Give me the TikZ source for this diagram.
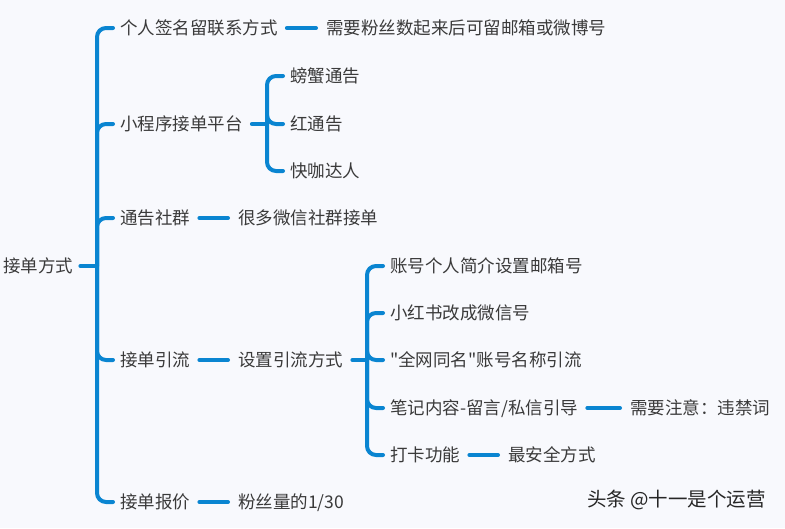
\documentclass[tikz,border=0pt]{standalone}
\usepackage{fontspec}
\setmainfont{Noto Sans CJK SC}
\newfontfamily\plainf{Noto Sans CJK SC}
\definecolor{lineblue}{HTML}{0A85D1}
\definecolor{txt}{HTML}{3A3A3A}
\definecolor{bg}{HTML}{F8F9FD}
\begin{document}
\begin{tikzpicture}[x=1pt,y=-1pt,
  lbl/.style={anchor=west, inner sep=0pt, text height=12pt, text depth=0pt, font=\fontsize{17.5}{20}\selectfont, text=txt},
  conn/.style={draw=lineblue, line width=4pt, line cap=round},
  brk/.style={conn, rounded corners=9pt}]
\fill[bg] (0,0) rectangle (785,528);
\useasboundingbox (0,0) rectangle (785,528);
% nodes
\node[lbl] (root) at (3,266) {接单方式};
\node[lbl] (a1) at (120,28) {个人签名留联系方式};
\node[lbl] (a1c) at (326,28) {需要粉丝数起来后可留邮箱或微博号};
\node[lbl] (a2) at (120,124) {小程序接单平台};
\node[lbl] (a2c1) at (290,76) {螃蟹通告};
\node[lbl] (a2c2) at (290,124) {红通告};
\node[lbl] (a2c3) at (290,171) {快咖达人};
\node[lbl] (a3) at (120,218) {通告社群};
\node[lbl] (a3c) at (238,218) {很多微信社群接单};
\node[lbl] (a4) at (120,360) {接单引流};
\node[lbl] (a4c) at (238,360) {设置引流方式};
\node[lbl] (b1) at (390,266) {账号个人简介设置邮箱号};
\node[lbl] (b2) at (390,313) {小红书改成微信号};
\node[lbl] (b3) at (390,360) {{\plainf "}全网同名{\plainf "}账号名称引流};
\node[lbl] (b4) at (390,408) {笔记内容-留言/私信引导};
\node[lbl] (b4c) at (630,408) {需要注意：违禁词};
\node[lbl] (b5) at (390,455) {打卡功能};
\node[lbl] (b5c) at (508,455) {最安全方式};
\node[lbl] (a5) at (120,502) {接单报价};
\node[lbl] (a5c) at (238,502) {粉丝量的1/30};
\node[anchor=west, inner sep=0pt, text height=13pt, text depth=0pt, font=\fontsize{19.5}{22}\selectfont, text=black!85] (wm) at (587,500) {头条\hspace{4pt}@十一是个运营};
% junction coordinates
\coordinate (t0) at (97,266);
\coordinate (s2) at (267,124);
\coordinate (s4) at (367,360);
% root trunk
\draw[conn] ([xshift=7pt]root.east) -- (t0);
\foreach \n in {a1,a2,a3,a4,a5}
  \draw[brk] (t0) |- ([xshift=-7pt]\n.west);
% second level brackets
\draw[conn] ([xshift=9pt]a2.east) -- (s2);
\foreach \n in {a2c1,a2c2,a2c3}
  \draw[brk] (s2) |- ([xshift=-7pt]\n.west);
\draw[conn] ([xshift=9pt]a4c.east) -- (s4);
\foreach \n in {b1,b2,b3,b4,b5}
  \draw[brk] (s4) |- ([xshift=-7pt]\n.west);
% straight connectors
\draw[conn] ([xshift=9pt]a1.east) -- ([xshift=-10pt]a1c.west);
\draw[conn] ([xshift=9pt]a3.east) -- ([xshift=-10pt]a3c.west);
\draw[conn] ([xshift=9pt]a4.east) -- ([xshift=-10pt]a4c.west);
\draw[conn] ([xshift=9pt]a5.east) -- ([xshift=-10pt]a5c.west);
\draw[conn] ([xshift=9pt]b4.east) -- ([xshift=-10pt]b4c.west);
\draw[conn] ([xshift=9pt]b5.east) -- ([xshift=-10pt]b5c.west);
\end{tikzpicture}
\end{document}
